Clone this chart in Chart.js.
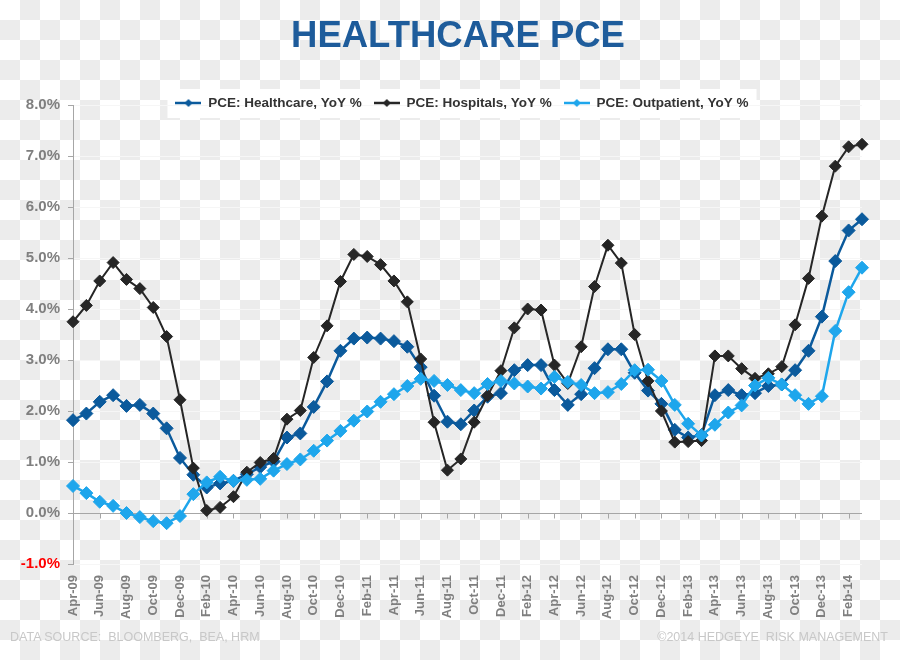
<!DOCTYPE html>
<html>
<head>
<meta charset="utf-8">
<title>Healthcare PCE</title>
<script src="https://cdn.jsdelivr.net/npm/chart.js@4.4.1/dist/chart.umd.min.js"></script>
<style>
  html, body { margin: 0; padding: 0; }
  body {
    width: 900px;
    height: 660px;
    overflow: hidden;
    background: repeating-conic-gradient(#ececec 0 25%, #ffffff 0 50%) 0 0 / 40px 40px;
    font-family: "Liberation Sans", Arial, sans-serif;
  }
  #wrap { position: relative; width: 900px; height: 660px; }
  #myChart { position: absolute; left: 0; top: 0; }
  .footer { position: absolute; top: 630px; font-size: 12.5px; color: #c8c8c8; white-space: pre; }
</style>
</head>
<body>
<div id="wrap">
  <canvas id="myChart" width="900" height="660"></canvas>
  <div class="footer" style="left:10px">DATA SOURCE:  BLOOMBERG,  BEA, HRM</div>
  <div class="footer" style="right:12px">©2014 HEDGEYE  RISK MANAGEMENT</div>
</div>
<script>
// monthly, Apr-09 .. Mar-14
const months = [
  "Apr-09", "May-09", "Jun-09", "Jul-09", "Aug-09", "Sep-09", "Oct-09", "Nov-09", "Dec-09",
  "Jan-10", "Feb-10", "Mar-10", "Apr-10", "May-10", "Jun-10", "Jul-10", "Aug-10", "Sep-10", "Oct-10", "Nov-10", "Dec-10",
  "Jan-11", "Feb-11", "Mar-11", "Apr-11", "May-11", "Jun-11", "Jul-11", "Aug-11", "Sep-11", "Oct-11", "Nov-11", "Dec-11",
  "Jan-12", "Feb-12", "Mar-12", "Apr-12", "May-12", "Jun-12", "Jul-12", "Aug-12", "Sep-12", "Oct-12", "Nov-12", "Dec-12",
  "Jan-13", "Feb-13", "Mar-13", "Apr-13", "May-13", "Jun-13", "Jul-13", "Aug-13", "Sep-13", "Oct-13", "Nov-13", "Dec-13",
  "Jan-14", "Feb-14", "Mar-14"
];

const healthcare = [
  1.82, 1.95, 2.18, 2.31, 2.10, 2.12, 1.95, 1.66, 1.08,
  0.75, 0.50, 0.58, 0.63, 0.76, 0.90, 1.01, 1.48, 1.56, 2.08, 2.58, 3.18,
  3.42, 3.44, 3.42, 3.37, 3.26, 2.86, 2.30, 1.79, 1.74, 2.01, 2.28, 2.35,
  2.80, 2.90, 2.90, 2.41, 2.12, 2.33, 2.84, 3.21, 3.21, 2.75, 2.40, 2.14,
  1.63, 1.48, 1.53, 2.31, 2.41, 2.31, 2.35, 2.49, 2.52, 2.80, 3.18, 3.85,
  4.94, 5.54, 5.76
];

const hospitals = [
  3.75, 4.07, 4.55, 4.91, 4.58, 4.40, 4.03, 3.46, 2.22,
  0.88, 0.05, 0.11, 0.32, 0.80, 0.99, 1.07, 1.84, 2.01, 3.05, 3.67, 4.54,
  5.07, 5.03, 4.87, 4.55, 4.14, 3.02, 1.78, 0.84, 1.06, 1.78, 2.30, 2.79,
  3.63, 4.00, 3.98, 2.90, 2.54, 3.26, 4.44, 5.25, 4.90, 3.50, 2.59, 2.00,
  1.39, 1.40, 1.42, 3.08, 3.08, 2.83, 2.64, 2.73, 2.87, 3.69, 4.60, 5.82,
  6.80, 7.18, 7.23
];

const outpatient = [
  0.53, 0.39, 0.22, 0.14, 0.00, -0.08, -0.16, -0.20, -0.06,
  0.37, 0.60, 0.71, 0.63, 0.65, 0.67, 0.83, 0.96, 1.05, 1.22, 1.42, 1.61,
  1.81, 1.99, 2.18, 2.33, 2.49, 2.63, 2.59, 2.51, 2.41, 2.35, 2.53, 2.59,
  2.54, 2.48, 2.44, 2.67, 2.57, 2.51, 2.35, 2.37, 2.53, 2.80, 2.81, 2.59,
  2.12, 1.75, 1.52, 1.73, 1.97, 2.11, 2.50, 2.65, 2.52, 2.31, 2.14, 2.29,
  3.57, 4.33, 4.81
];

const seriesNames = ["PCE: Healthcare, YoY %", "PCE: Hospitals, YoY %", "PCE: Outpatient, YoY %"];
const seriesColors = ["#0b5a9c", "#262626", "#1ea6ec"];

Chart.defaults.font.family = "'Liberation Sans', Arial, sans-serif";

// little line + diamond used as legend symbol
function legendMarker(color) {
  const c = document.createElement("canvas");
  c.width = 26;
  c.height = 12;
  const g = c.getContext("2d");
  g.strokeStyle = color;
  g.lineWidth = 2.5;
  g.beginPath();
  g.moveTo(0, 6);
  g.lineTo(26, 6);
  g.stroke();
  g.fillStyle = color;
  g.beginPath();
  g.moveTo(13, 2);
  g.lineTo(17, 6);
  g.lineTo(13, 10);
  g.lineTo(9, 6);
  g.closePath();
  g.fill();
  return c;
}
const markers = seriesColors.map(legendMarker);

const LEGEND_PAD = 12;
const LEGEND_FONT = 13.5;

const tweaks = {
  id: "tweaks",
  afterLayout(chart) {
    const t = chart.titleBlock;
    if (t) {
      const dx = 458 - (t.left + t.right) / 2;
      t.left += dx;
      t.right += dx;
    }
    const l = chart.legend;
    if (l) {
      const dx = 462 - (l.left + l.right) / 2;
      const dy = 103 - (l.top + LEGEND_PAD + LEGEND_FONT / 2);
      l.left += dx;
      l.right += dx;
      l.top += dy;
      l.bottom += dy;
    }
  },
  beforeDraw(chart) {
    const l = chart.legend;
    if (!l || !l.legendHitBoxes || !l.legendHitBoxes.length) return;
    const boxes = l.legendHitBoxes;
    const minL = Math.min(...boxes.map((b) => b.left));
    const maxR = Math.max(...boxes.map((b) => b.left + b.width));
    const ctx = chart.ctx;
    ctx.save();
    ctx.fillStyle = "#ffffff";
    ctx.fillRect(minL - 8, 89, maxR - minL + 16, 29);
    ctx.restore();
  },
  beforeDatasetsDraw(chart) {
    // tick marks hanging under the zero line
    const { ctx, scales: { x, y } } = chart;
    const y0 = Math.round(y.getPixelForValue(0)) + 0.5;
    ctx.save();
    ctx.strokeStyle = "#a6a6a6";
    ctx.lineWidth = 1;
    ctx.beginPath();
    months.forEach((m, i) => {
      if (i % 2 === 0) {
        const px = Math.round(x.getPixelForValue(i)) + 0.5;
        ctx.moveTo(px, y0);
        ctx.lineTo(px, y0 + 5);
      }
    });
    ctx.stroke();
    ctx.restore();
  },
};

const chartCanvas = document.getElementById("myChart");
const chartInstance = new Chart(chartCanvas, {
  type: "line",
  data: {
    labels: months,
    datasets: [
      {
        label: seriesNames[0],
        data: healthcare,
        borderColor: seriesColors[0],
        backgroundColor: seriesColors[0],
        borderWidth: 2.5,
        pointStyle: "rectRot",
        pointRadius: 6.5,
        pointBorderWidth: 1,
        tension: 0,
        clip: false,
        order: 3,
      },
      {
        label: seriesNames[1],
        data: hospitals,
        borderColor: seriesColors[1],
        backgroundColor: seriesColors[1],
        borderWidth: 2,
        pointStyle: "rectRot",
        pointRadius: 6,
        pointBorderWidth: 1,
        tension: 0,
        clip: false,
        order: 2,
      },
      {
        label: seriesNames[2],
        data: outpatient,
        borderColor: seriesColors[2],
        backgroundColor: seriesColors[2],
        borderWidth: 2.5,
        pointStyle: "rectRot",
        pointRadius: 6.5,
        pointBorderWidth: 1,
        tension: 0,
        clip: false,
        order: 1,
      },
    ],
  },
  options: {
    responsive: false,
    animation: false,
    devicePixelRatio: 1,
    layout: {
      padding: { left: 0, right: 38, top: 0, bottom: 0 },
    },
    plugins: {
      title: {
        display: true,
        text: "HEALTHCARE PCE",
        color: "#1e5c9b",
        font: { size: 36.5, weight: "bold" },
        padding: { top: 15, bottom: 10.7 },
      },
      legend: {
        display: true,
        position: "top",
        align: "center",
        labels: {
          usePointStyle: true,
          pointStyleWidth: 26,
          padding: LEGEND_PAD,
          color: "#333333",
          font: { size: LEGEND_FONT, weight: "bold" },
          sort: (a, b) => a.datasetIndex - b.datasetIndex,
          generateLabels(chart) {
            const items = Chart.defaults.plugins.legend.labels.generateLabels(chart);
            items.forEach((it) => {
              it.pointStyle = markers[it.datasetIndex];
            });
            return items;
          },
        },
      },
      tooltip: { enabled: false },
    },
    scales: {
      x: {
        offset: false,
        grid: { display: false },
        border: { display: false },
        afterFit(scale) {
          scale.height = 96;
        },
        ticks: {
          autoSkip: false,
          minRotation: 90,
          maxRotation: 90,
          padding: 3,
          color: "#7f7f7f",
          font: { size: 13, weight: "bold" },
          callback(value, index) {
            return index % 2 === 0 ? months[index] : "";
          },
        },
      },
      y: {
        min: -1,
        max: 8,
        afterFit(scale) {
          scale.width = 73;
        },
        border: { display: true, color: "#a6a6a6", width: 1 },
        grid: {
          drawTicks: true,
          tickLength: 5,
          tickColor: "#a6a6a6",
          lineWidth: 1,
          color: (c) => (c.tick && c.tick.value === 0 ? "#a6a6a6" : "#f6f6f6"),
        },
        ticks: {
          stepSize: 1,
          padding: 8,
          font: { size: 15, weight: "bold" },
          color: (c) => (c.tick && c.tick.value < 0 ? "#ff0000" : "#7f7f7f"),
          callback: (v) => v.toFixed(1) + "%",
        },
      },
    },
  },
  plugins: [tweaks],
});
</script>
</body>
</html>
